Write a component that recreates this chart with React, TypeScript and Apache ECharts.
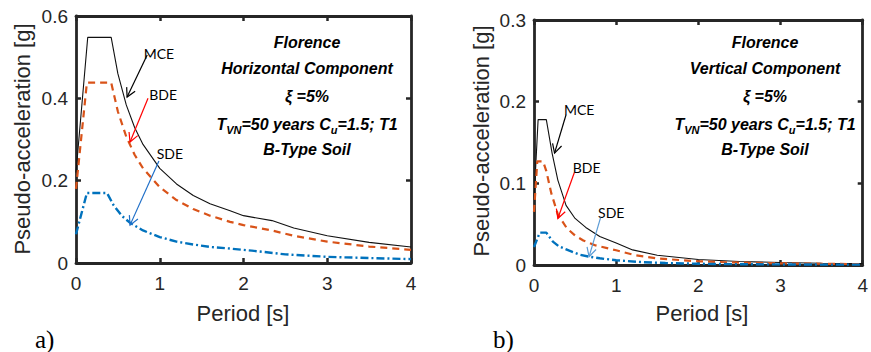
import React, { useEffect, useRef } from "react";
import * as echarts from "echarts";

// ---------- Data ----------
// a) Horizontal component
const H_MCE_T = [0, 0.14, 0.42, 0.5, 0.6, 0.7, 0.8, 1.0, 1.2, 1.4, 1.6, 1.84, 2.0, 2.34, 2.6, 3.0, 3.5, 4.0];
const H_MCE_V = [0.22, 0.548, 0.548, 0.46, 0.384, 0.329, 0.288, 0.23, 0.192, 0.164, 0.144, 0.127, 0.115, 0.103, 0.085, 0.066, 0.05, 0.039];
const H_BDE_T = [0, 0.13, 0.42, 0.5, 0.6, 0.7, 0.8, 1.0, 1.2, 1.4, 1.6, 1.84, 2.0, 2.34, 2.6, 3.0, 3.5, 4.0];
const H_BDE_V = [0.18, 0.438, 0.438, 0.368, 0.307, 0.263, 0.23, 0.184, 0.153, 0.131, 0.115, 0.1, 0.092, 0.079, 0.066, 0.052, 0.04, 0.032];
const H_SDE_T = [0, 0.13, 0.37, 0.45, 0.55, 0.65, 0.8, 1.0, 1.2, 1.4, 1.6, 1.84, 2.1, 2.5, 3.0, 3.5, 4.0];
const H_SDE_V = [0.07, 0.17, 0.17, 0.14, 0.114, 0.097, 0.079, 0.063, 0.052, 0.045, 0.039, 0.035, 0.03, 0.021, 0.015, 0.012, 0.0095];

// b) Vertical component
const V_MCE_T = [0, 0.05, 0.15, 0.22, 0.29, 0.39, 0.5, 0.63, 0.8, 1.0, 1.2, 1.5, 2.0, 2.5, 3.0, 3.5, 4.0];
const V_MCE_V = [0.08, 0.178, 0.178, 0.137, 0.104, 0.073, 0.057, 0.046, 0.035, 0.027, 0.0185, 0.012, 0.0067, 0.0043, 0.003, 0.0022, 0.0017];
const V_BDE_T = [0, 0.04, 0.11, 0.15, 0.21, 0.29, 0.4, 0.5, 0.6, 0.75, 1.0, 1.22, 1.5, 2.0, 2.5, 3.0, 3.5, 4.0];
const V_BDE_V = [0.065, 0.127, 0.127, 0.115, 0.088, 0.062, 0.045, 0.036, 0.03, 0.024, 0.018, 0.0122, 0.008, 0.0045, 0.0029, 0.002, 0.0015, 0.0011];
const V_SDE_T = [0, 0.07, 0.15, 0.23, 0.3, 0.43, 0.55, 0.67, 0.8, 1.0, 1.3, 1.6, 2.0, 2.5, 3.0, 3.5, 4.0];
const V_SDE_V = [0.022, 0.0396, 0.0396, 0.0286, 0.023, 0.0175, 0.0128, 0.0102, 0.0082, 0.0058, 0.0036, 0.0024, 0.0015, 0.001, 0.0007, 0.0005, 0.0004];

// axis ranges
const X_MIN = 0, X_MAX = 4, X_STEP = 1;
const H_Y_MAX = 0.6, H_Y_STEP = 0.2;
const V_Y_MAX = 0.3, V_Y_STEP = 0.1;

// texts
const X_TITLE = "Period [s]";
const Y_TITLE = "Pseudo-acceleration [g]";
const H_INFO = ["Florence", "Horizontal Component", "ξ =5%", "TVN", "B-Type Soil"];
const V_INFO = ["Florence", "Vertical Component", "ξ =5%", "TVN", "B-Type Soil"];
const PANEL_TAGS = ["a)", "b)"];

// annotation arrows in data coordinates: label position, arrow start, arrow tip
const H_ARROWS = [
  { label: "MCE", at: [0.99, 0.51], from: [0.85, 0.505], to: [0.61, 0.403], color: "#000000" },
  { label: "BDE", at: [1.04, 0.41], from: [0.86, 0.4], to: [0.645, 0.294], color: "#ff0000" },
  { label: "SDE", at: [1.12, 0.265], from: [0.99, 0.248], to: [0.645, 0.092], color: "#1f6fc8" },
];
const V_ARROWS = [
  { label: "MCE", at: [0.55, 0.19], from: [0.39, 0.184], to: [0.25, 0.137], color: "#000000" },
  { label: "BDE", at: [0.64, 0.119], from: [0.49, 0.113], to: [0.29, 0.057], color: "#ff0000" },
  { label: "SDE", at: [0.94, 0.064], from: [0.81, 0.058], to: [0.67, 0.0102], color: "#5b9bd5" },
];

const AX = "#262626";
const SANS = "'Liberation Sans', Arial, sans-serif";

const pairs = (t: number[], v: number[]) => t.map((x, i) => [x, v[i]]);

function axesFor(grid: number, yMax: number, yStep: number) {
  const line = { show: true, onZero: false, lineStyle: { color: AX, width: 2.8 } };
  const tick = { show: true, inside: true, length: 5, lineStyle: { color: AX, width: 2.5 } };
  const xAxes = [
    {
      gridIndex: grid, type: "value", position: "bottom", min: X_MIN, max: X_MAX, interval: X_STEP,
      axisLine: line, axisTick: tick, splitLine: { show: false },
      axisLabel: { color: AX, fontFamily: SANS, fontSize: 19, margin: 11 },
    },
    {
      gridIndex: grid, type: "value", position: "top", min: X_MIN, max: X_MAX, interval: X_STEP,
      axisLine: line, axisTick: tick, splitLine: { show: false }, axisLabel: { show: false },
    },
  ];
  const yAxes = [
    {
      gridIndex: grid, type: "value", position: "left", min: 0, max: yMax, interval: yStep,
      axisLine: line, axisTick: tick, splitLine: { show: false },
      axisLabel: {
        color: AX, fontFamily: SANS, fontSize: 19, margin: 8,
        formatter: (v: number) => String(+v.toFixed(2)),
      },
    },
    {
      gridIndex: grid, type: "value", position: "right", min: 0, max: yMax, interval: yStep,
      axisLine: line, axisTick: tick, splitLine: { show: false }, axisLabel: { show: false },
    },
  ];
  return { xAxes, yAxes };
}

function seriesFor(axisBase: number, mce: number[][], bde: number[][], sde: number[][]) {
  const common = {
    type: "line", xAxisIndex: axisBase, yAxisIndex: axisBase, symbol: "none",
    showSymbol: false, z: 5, clip: true,
  };
  return [
    { ...common, name: "MCE", data: mce, lineStyle: { color: "#111111", width: 1.1 } },
    { ...common, name: "BDE", data: bde, lineStyle: { color: "#d95319", width: 2.2, type: [7, 5] } },
    { ...common, name: "SDE", data: sde, lineStyle: { color: "#0072bd", width: 2.4, type: [8, 3, 2, 3] } },
  ];
}

export default function App() {
  const ref = useRef<HTMLDivElement>(null);
  useEffect(() => {
    const chart = echarts.init(ref.current!, null, { renderer: "svg" });
    const a = axesFor(0, H_Y_MAX, H_Y_STEP);
    const b = axesFor(1, V_Y_MAX, V_Y_STEP);
    chart.setOption({
      animation: false,
      backgroundColor: "#ffffff",
      grid: [
        { left: 76, top: 16, width: 335, height: 247 },
        { left: 534, top: 20, width: 336, height: 245 },
      ],
      xAxis: [...a.xAxes, ...b.xAxes],
      yAxis: [...a.yAxes, ...b.yAxes],
      series: [
        ...seriesFor(0, pairs(H_MCE_T, H_MCE_V), pairs(H_BDE_T, H_BDE_V), pairs(H_SDE_T, H_SDE_V)),
        ...seriesFor(2, pairs(V_MCE_T, V_MCE_V), pairs(V_BDE_T, V_BDE_V), pairs(V_SDE_T, V_SDE_V)),
      ],
    });

    const graphics: any[] = [];
    const bi = { fontFamily: SANS, fontWeight: "bold", fontStyle: "italic", fill: "#000" };

    const infoBlock = (lines: string[], cx: number) => {
      const ys = [42, 68, 96, 123, 149];
      lines.forEach((s, i) => {
        if (s === "TVN") {
          graphics.push({
            type: "text", x: cx, y: ys[i], z: 20,
            style: {
              text: "{t|T}{s|VN}{t|=50 years C}{s|u}{t|=1.5; T1}",
              align: "center", verticalAlign: "middle",
              rich: {
                t: { ...bi, fontSize: 16, lineHeight: 18, verticalAlign: "bottom" },
                s: { ...bi, fontSize: 11, lineHeight: 14, verticalAlign: "bottom", padding: [0, 0, -3, 0] },
              },
            },
          });
        } else {
          graphics.push({
            type: "text", x: cx, y: ys[i], z: 20,
            style: { ...bi, text: s, fontSize: 16, align: "center", verticalAlign: "middle" },
          });
        }
      });
    };
    infoBlock(H_INFO, 307);
    infoBlock(V_INFO, 765);

    const arrows = (list: typeof H_ARROWS, axisIndex: number) => {
      list.forEach((ar) => {
        const conv = (p: number[]) =>
          chart.convertToPixel({ xAxisIndex: axisIndex, yAxisIndex: axisIndex }, p) as number[];
        const L = conv(ar.at), S = conv(ar.from), T = conv(ar.to);
        graphics.push({
          type: "text", x: L[0], y: L[1], z: 20,
          style: { text: ar.label, fontFamily: "Lato, 'Open Sans', sans-serif", fontSize: 14, fill: "#000", align: "center", verticalAlign: "middle" },
        });
        graphics.push({
          type: "line", z: 20,
          shape: { x1: S[0], y1: S[1], x2: T[0], y2: T[1] },
          style: { stroke: ar.color, lineWidth: 1.2 },
        });
        const dx = S[0] - T[0], dy = S[1] - T[1];
        const len = Math.hypot(dx, dy);
        const ux = dx / len, uy = dy / len;
        const ang = (28 * Math.PI) / 180, hl = 10;
        const rot = (s: number) => [
          T[0] + hl * (ux * Math.cos(s * ang) - uy * Math.sin(s * ang)),
          T[1] + hl * (ux * Math.sin(s * ang) + uy * Math.cos(s * ang)),
        ];
        graphics.push({
          type: "polyline", z: 20,
          shape: { points: [rot(1), [T[0], T[1]], rot(-1)] },
          style: { stroke: ar.color, lineWidth: 1.2, fill: "none" },
        });
      });
    };
    arrows(H_ARROWS, 0);
    arrows(V_ARROWS, 2);

    // axis titles
    [[22, 139, 243], [481, 141, 702]].forEach(([yx, yy, xx]) => {
      graphics.push({
        type: "text", x: yx, y: yy, rotation: Math.PI / 2, z: 20,
        style: { text: Y_TITLE, fontFamily: SANS, fontSize: 22, fill: AX, align: "center", verticalAlign: "middle" },
      });
      graphics.push({
        type: "text", x: xx, y: 313, z: 20,
        style: { text: X_TITLE, fontFamily: SANS, fontSize: 22, fill: AX, align: "center", verticalAlign: "middle" },
      });
    });

    // panel tags
    [[35, 339], [493, 339]].forEach(([x, y], i) => {
      graphics.push({
        type: "text", x, y, z: 20,
        style: { text: PANEL_TAGS[i], fontFamily: "'Liberation Serif', 'Times New Roman', serif", fontSize: 25, fill: "#000", align: "left", verticalAlign: "middle" },
      });
    });

    chart.setOption({ graphic: graphics });
    return () => chart.dispose();
  }, []);
  return (
    <div
      ref={ref}
      style={{ position: "absolute", left: 0, top: 0, width: 871, height: 352, background: "#fff" }}
    />
  );
}
